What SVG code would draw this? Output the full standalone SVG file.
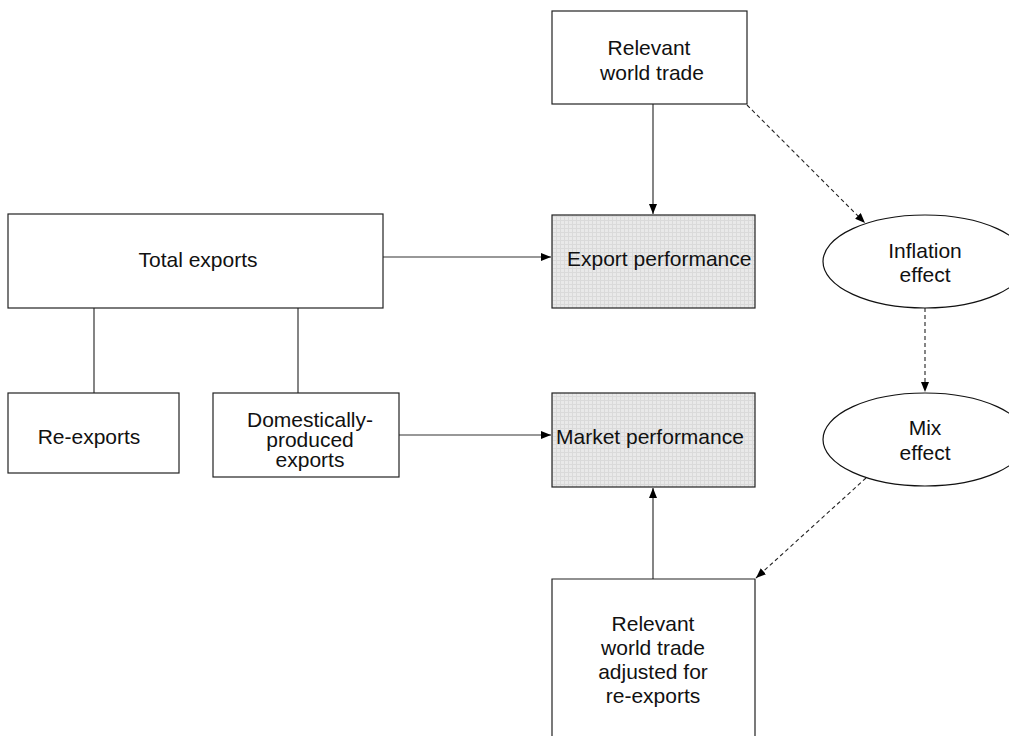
<svg xmlns="http://www.w3.org/2000/svg" width="1009" height="738" viewBox="0 0 1009 738">
<style>
.box{fill:#fff;stroke:#222;stroke-width:1.2}
.shade{fill:url(#grid);stroke:#222;stroke-width:1.2}
.ell{fill:#fff;stroke:#111;stroke-width:1.2}
text{font-family:"Liberation Sans",Arial,sans-serif;font-size:21px;fill:#111}
.c{text-anchor:middle}
.ln{fill:none;stroke:#333;stroke-width:1.2}
.ar{fill:none;stroke:#333;stroke-width:1.2;marker-end:url(#ah)}
.da{fill:none;stroke:#222;stroke-width:1.1;stroke-dasharray:4 3;marker-end:url(#ah)}
</style>
<defs>
<pattern id="grid" width="4" height="4" patternUnits="userSpaceOnUse">
<rect width="4" height="4" fill="#e9e9e9"/>
<path d="M0 0.5H4M0.5 0V4" stroke="#dadada" stroke-width="1"/>
</pattern>
<marker id="ah" markerWidth="10" markerHeight="8" refX="10" refY="4" orient="auto" markerUnits="userSpaceOnUse">
<path d="M0 0L10 4L0 8Z" fill="#000"/>
</marker>
</defs>
<g id="connectors">
<path class="ar" d="M653 104V214"/>
<path class="ar" d="M383 257H551"/>
<path class="ln" d="M94 308V393"/>
<path class="ln" d="M298 308V393"/>
<path class="ar" d="M399 435H551"/>
<path class="ar" d="M653 579V488"/>
<path class="da" d="M747 105L865 223"/>
<path class="da" d="M925 308V392"/>
<path class="da" d="M866 478L756 578"/>
</g>
<g id="relevant-world-trade">
<rect class="box" x="552" y="11" width="195" height="93"/>
<text class="c" x="649" y="55">Relevant</text>
<text class="c" x="652" y="80">world trade</text>
</g>
<g id="export-performance">
<rect class="shade" x="552" y="215" width="203" height="93"/>
<text x="567" y="266">Export performance</text>
</g>
<g id="total-exports">
<rect class="box" x="8" y="214" width="375" height="94"/>
<text class="c" x="198" y="267">Total exports</text>
</g>
<g id="re-exports">
<rect class="box" x="8" y="393" width="171" height="80"/>
<text class="c" x="89" y="444">Re-exports</text>
</g>
<g id="domestically-produced-exports">
<rect class="box" x="213" y="393" width="186" height="84"/>
<text class="c" x="310" y="427">Domestically-</text>
<text class="c" x="310" y="447">produced</text>
<text class="c" x="310" y="467">exports</text>
</g>
<g id="market-performance">
<rect class="shade" x="552" y="393" width="203" height="94"/>
<text x="556" y="444">Market performance</text>
</g>
<g id="relevant-world-trade-adjusted">
<path class="box" d="M552 736V579H755V736"/>
<text class="c" x="653" y="631">Relevant</text>
<text class="c" x="653" y="655">world trade</text>
<text class="c" x="653" y="679">adjusted for</text>
<text class="c" x="653" y="703">re-exports</text>
</g>
<g id="inflation-effect">
<ellipse class="ell" cx="925" cy="261.5" rx="102" ry="46.5"/>
<text class="c" x="925" y="258">Inflation</text>
<text class="c" x="925" y="282">effect</text>
</g>
<g id="mix-effect">
<ellipse class="ell" cx="925" cy="439.5" rx="102" ry="46.5"/>
<text class="c" x="925" y="435">Mix</text>
<text class="c" x="925" y="460">effect</text>
</g>
</svg>
